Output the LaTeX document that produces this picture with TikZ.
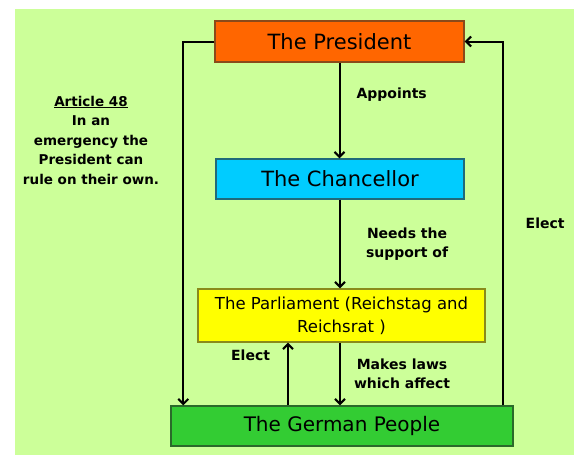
\documentclass[tikz,border=0pt]{standalone}
\usepackage{fontspec}
\setmainfont{DejaVu Sans}
\usepackage{tikz}
\usetikzlibrary{arrows.meta}

\definecolor{bggreen}{HTML}{CCFF99}
\definecolor{presfill}{HTML}{FF6600}
\definecolor{presline}{HTML}{8A4A1A}
\definecolor{chanfill}{HTML}{00CCFF}
\definecolor{chanline}{HTML}{1F6A7A}
\definecolor{parlfill}{HTML}{FFFF00}
\definecolor{parlline}{HTML}{8A8A1A}
\definecolor{peopfill}{HTML}{33CC33}
\definecolor{peopline}{HTML}{2A6A2A}

\begin{document}
\begin{tikzpicture}[x=1pt,y=-1pt,->,>={Straight Barb[length=5pt,width=10pt]},
            line width=2pt,
            office/.style={draw,rectangle,line width=1.4pt,inner sep=0pt,
              font=\fontsize{21}{24}\selectfont},
            lbl/.style={font=\bfseries\fontsize{14}{19}\selectfont,align=center,
              inner sep=0pt}]

          \useasboundingbox (0,0) rectangle (574,455);
          \fill[bggreen] (15,9) rectangle (574,455);

          \node[office,fill=presfill,draw=presline,minimum width=249pt,minimum height=41pt]
               (pres) at (339.5, 41.5) {The President};
          \node[office,fill=chanfill,draw=chanline,minimum width=248pt,minimum height=40pt]
               (chan) at (340, 179) {The Chancellor};
          \node[office,fill=parlfill,draw=parlline,minimum width=287pt,minimum height=53pt,
               align=center,font=\fontsize{16.5}{23}\selectfont]
               (parl) at (341.5, 315.5) {The Parliament (Reichstag and\\Reichsrat )};
          \node[office,fill=peopfill,draw=peopline,minimum width=342pt,minimum height=40pt,
               font=\fontsize{20}{24}\selectfont]
               (peop) at (342, 426) {The German People};

          \node[lbl,font=\bfseries\fontsize{13.5}{19.5}\selectfont] (art) at (91, 140)
               {\underline{Article 48}\\In an\\emergency the\\President can\\rule on their own.};

          \path (pres.south) edge node[lbl,pos=0.33,right=16pt] {Appoints} (pres.south |- chan.north)
                (chan.south) edge node[lbl,right=25pt] {Needs the\\support of} (chan.south |- parl.north)
                (chan.south |- parl.south) edge node[lbl,right=13pt] {Makes laws\\which affect} (chan.south |- peop.north)
                ([xshift=-54pt]peop.north) edge node[lbl,pos=0.8,left=17pt] {Elect}
                     ([xshift=-54pt]peop.north |- parl.south);

          \draw (pres.west) -| ([xshift=13pt]peop.north west);
          \draw ([xshift=-11pt]peop.north east) |- node[lbl,pos=0.25,right=22pt] {Elect} (pres.east);
        \end{tikzpicture}
\end{document}
